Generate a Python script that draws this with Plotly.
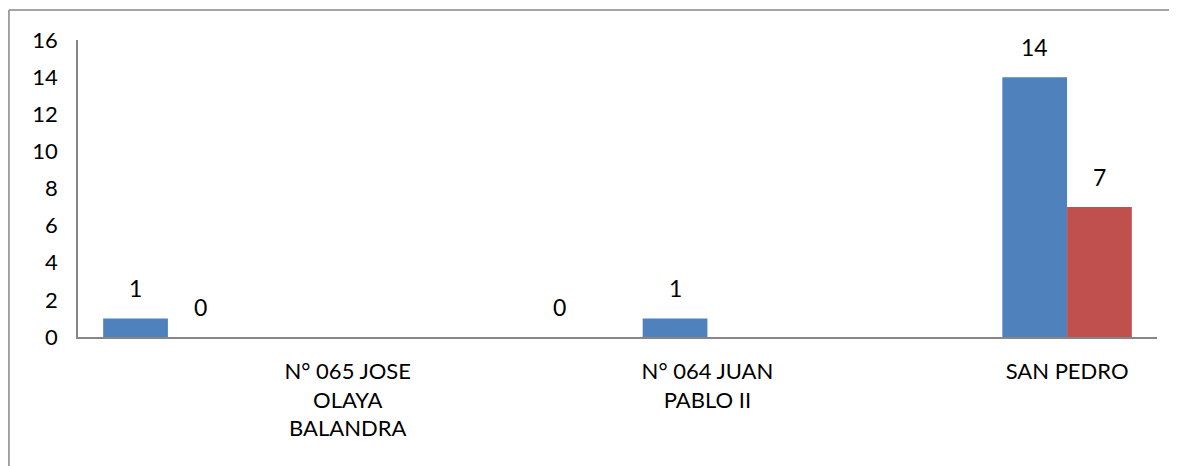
import plotly.graph_objects as go

positions = [1, 2, 3, 4, 5, 6]
tick_positions = [2, 4, 6]
tick_labels = ["N° 065 JOSE<br>OLAYA<br>BALANDRA", "N° 064 JUAN<br>PABLO II", "SAN PEDRO"]
serie_azul = [1, None, None, 1, None, 14]
serie_roja = [0, None, 0, None, None, 7]
y_ticks = [0, 2, 4, 6, 8, 10, 12, 14, 16]

FONT = "Lato"
BAR_HALF = 0.18  # each bar occupies 0.36 of a category slot
fig = go.Figure()
annotations = []
for vals, color, side in [(serie_azul, "#4F81BD", -1), (serie_roja, "#C0504D", 1)]:
    fig.add_trace(go.Bar(
        x=positions, y=vals, marker_color=color, marker_line_width=0,
    ))
    for xp, v in zip(positions, vals):
        if v is None:
            continue
        annotations.append(dict(
            x=xp + side * BAR_HALF, y=v, xref="x", yref="y", text=str(v),
            showarrow=False, yanchor="bottom", yshift=14,
            font=dict(family=FONT, size=23, color="#000000"),
        ))

fig.update_layout(
    width=1169, height=458,
    margin=dict(l=70, r=20, t=32, b=129),
    paper_bgcolor="white", plot_bgcolor="white",
    barmode="group", bargap=0.28, bargroupgap=0,
    showlegend=False,
    font=dict(family=FONT, size=22, color="#000000"),
    annotations=annotations,
)
fig.update_xaxes(
    range=[0.5, 6.5], tickmode="array", tickvals=tick_positions, ticktext=tick_labels,
    showline=True, linecolor="#868686", linewidth=1.5, showgrid=False, zeroline=False,
    ticks="", ticklabelstandoff=14, tickfont=dict(family=FONT, size=22),
)
fig.update_yaxes(
    range=[0, 16], tickmode="array", tickvals=y_ticks,
    showline=True, linecolor="#868686", linewidth=1.5, showgrid=False, zeroline=False,
    ticks="", ticklabelstandoff=14, tickfont=dict(family=FONT, size=22),
)
# chart frame (only the top and left edges fall inside the visible picture)
fig.add_shape(type="line", xref="paper", yref="paper",
              x0=-0.064, x1=1.2, y0=1.101, y1=1.101,
              line=dict(color="#868686", width=1.5), layer="below")
fig.add_shape(type="line", xref="paper", yref="paper",
              x0=-0.064, x1=-0.064, y0=-1.0, y1=1.101,
              line=dict(color="#868686", width=1.5), layer="below")
fig.write_html("out.html")
